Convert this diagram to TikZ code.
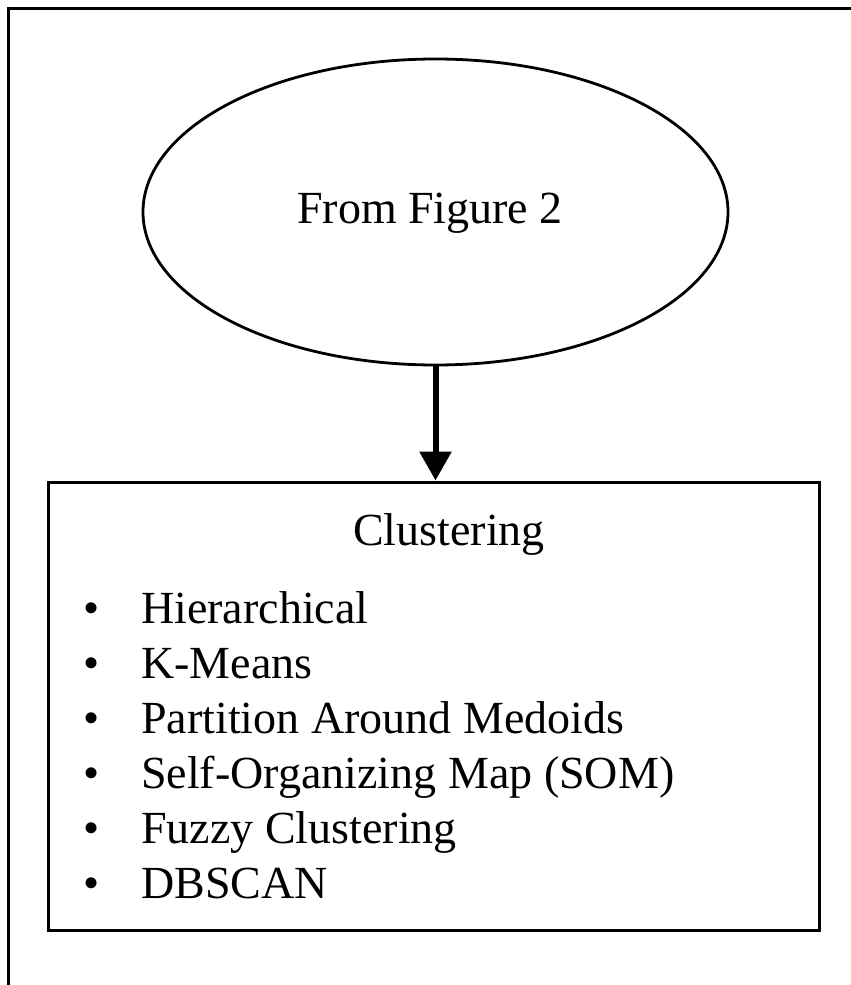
\documentclass[tikz,border=0pt]{standalone}
\usepackage{fontspec}
\setmainfont{Liberation Serif}
\usetikzlibrary{shapes.geometric,arrows.meta}
\tikzset{
  frameline/.style={line width=2.4pt, black},
  source/.style={ellipse, draw, line width=2.8pt, minimum width=585pt, minimum height=306pt, inner sep=0pt},
  groupbox/.style={rectangle, draw, line width=3pt, minimum width=771pt, minimum height=448pt, inner sep=0pt},
  bigtext/.style={inner sep=0pt, font=\fontsize{46}{54}\selectfont},
  itemtext/.style={bigtext, anchor=base west},
  bulletmark/.style={bigtext, anchor=base},
  flow/.style={line width=6pt, -{Triangle[width=31pt,length=29pt]}}
}
\begin{document}
\begin{tikzpicture}[x=1pt,y=-1pt]
  \useasboundingbox (0,0) rectangle (851,985);
  % page frame (left and top edges)
  \coordinate (fb) at (8.3,990);
  \coordinate (fc) at (8.3,8.3);
  \coordinate (fr) at (860,8.3);
  \draw[frameline] (fb) -- (fc) -- (fr);
  % source ellipse and its label
  \node[source] (src) at (435.5,212) {};
  \node[bigtext, anchor=base] (srclabel) at (430,223) {From Figure 2};
  % clustering box
  \node[groupbox] (box) at (433.5,706) {};
  \node[bigtext, anchor=base] (title) at (449,545) {Clustering};
  \node[bulletmark] (b1) at (92,623) {\textbullet};
  \node[bulletmark] (b2) at (92,678) {\textbullet};
  \node[bulletmark] (b3) at (92,733) {\textbullet};
  \node[bulletmark] (b4) at (92,788) {\textbullet};
  \node[bulletmark] (b5) at (92,843) {\textbullet};
  \node[bulletmark] (b6) at (92,898) {\textbullet};
  \node[itemtext] (i1) at (141,623) {Hierarchical};
  \node[itemtext] (i2) at (141,678) {K-Means};
  \node[itemtext] (i3) at (141,733) {Partition Around Medoids};
  \node[itemtext] (i4) at (141,788) {Self-Organizing Map (SOM)};
  \node[itemtext] (i5) at (141,843) {Fuzzy Clustering};
  \node[itemtext] (i6) at (141,898) {DBSCAN};
  % connector
  \draw[flow] (src.south) -- (src.south |- box.north);
\end{tikzpicture}
\end{document}
